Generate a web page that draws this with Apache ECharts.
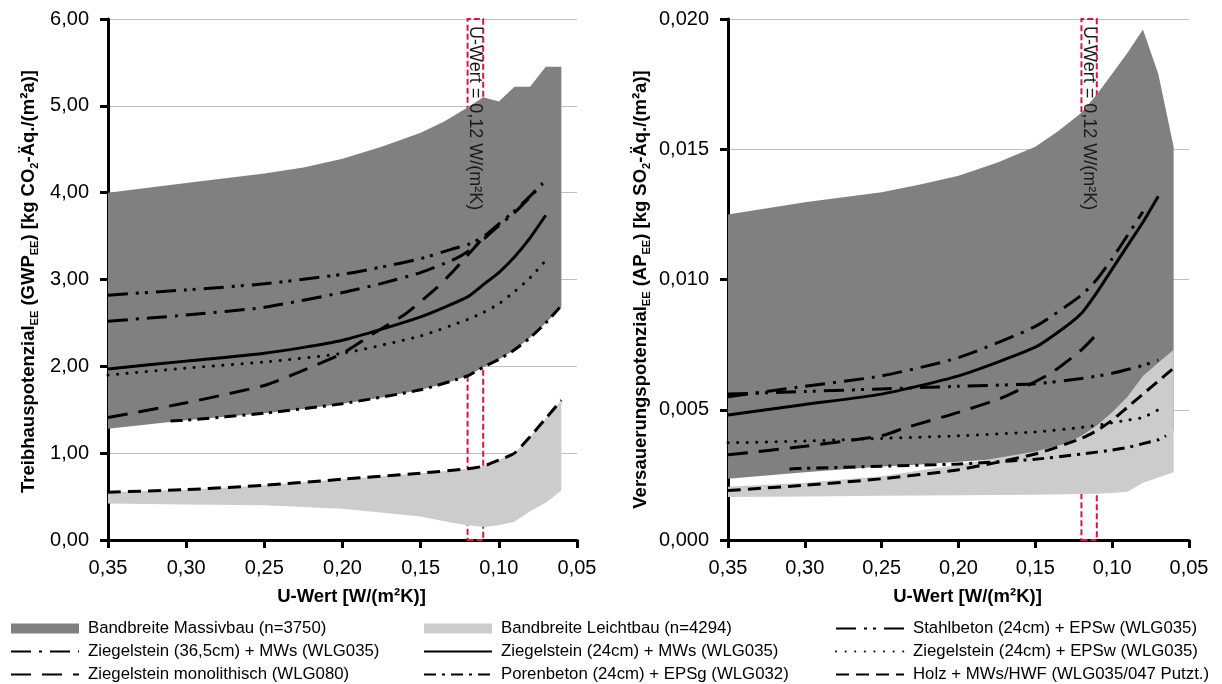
<!DOCTYPE html>
<html><head><meta charset="utf-8">
<script src="https://cdn.jsdelivr.net/npm/echarts@6/dist/echarts.min.js"></script>
<style>html,body{margin:0;padding:0;background:#fff}#c{width:1222px;height:684px}</style>
</head><body><div id="c"></div>
<script>
// ---------- DATA ----------
// axis ticks
const xMin = 0.05, xMax = 0.35, xStep = 0.05;
const gwpMin = 0, gwpMax = 6, gwpStep = 1;
const apMin = 0, apMax = 0.02, apStep = 0.005;
const uMark = [0.12, 0.11];
const uMarkLabel = 'U-Wert = 0,12 W/(m²K)';

// Names
const nMassiv = 'Bandbreite Massivbau (n=3750)';
const nLeicht = 'Bandbreite Leichtbau (n=4294)';
const nStahl = 'Stahlbeton (24cm) + EPSw (WLG035)';
const nZ365 = 'Ziegelstein (36,5cm) + MWs (WLG035)';
const nZ24M = 'Ziegelstein (24cm) + MWs (WLG035)';
const nZ24E = 'Ziegelstein (24cm) + EPSw (WLG035)';
const nMono = 'Ziegelstein monolithisch (WLG080)';
const nPoren = 'Porenbeton (24cm) + EPSg (WLG032)';
const nHolz = 'Holz + MWs/HWF (WLG035/047 Putzt.)';

// ----- GWP (left) -----
const gwpMassivU     = [0.35,0.30,0.25,0.225,0.20,0.175,0.15,0.135,0.12,0.11,0.10,0.09,0.08,0.07,0.06];
const gwpMassivUpper = [4.00,4.11,4.22,4.29,4.39,4.53,4.69,4.82,4.98,5.10,5.05,5.22,5.22,5.45,5.45];
const gwpMassivLower = [1.28,1.38,1.46,1.51,1.57,1.64,1.73,1.80,1.89,1.99,2.08,2.19,2.33,2.50,2.68];
const gwpLeichtU     = [0.35,0.30,0.25,0.20,0.15,0.13,0.12,0.11,0.10,0.09,0.08,0.07,0.06];
const gwpLeichtUpper = [0.55,0.58,0.63,0.70,0.77,0.80,0.82,0.85,0.92,1.00,1.19,1.40,1.61];
const gwpLeichtLower = [0.42,0.41,0.40,0.36,0.27,0.20,0.17,0.15,0.17,0.21,0.33,0.43,0.57];

const gwpStahlU = [0.35,0.30,0.25,0.20,0.176,0.15,0.13,0.12,0.11,0.10,0.09,0.08,0.072];
const gwpStahl  = [2.82,2.88,2.95,3.06,3.14,3.24,3.35,3.40,3.49,3.64,3.79,3.96,4.11];
const gwpZ365U  = [0.35,0.30,0.25,0.20,0.176,0.15,0.13,0.12,0.11,0.10,0.09,0.08,0.072];
const gwpZ365   = [2.52,2.59,2.68,2.85,2.95,3.08,3.22,3.32,3.46,3.62,3.77,3.95,4.10];
const gwpZ24MU  = [0.35,0.30,0.25,0.20,0.15,0.12,0.11,0.10,0.09,0.08,0.07];
const gwpZ24M   = [1.97,2.06,2.15,2.30,2.57,2.80,2.94,3.08,3.26,3.48,3.74];
const gwpZ24EU  = [0.35,0.30,0.25,0.20,0.15,0.12,0.11,0.10,0.09,0.08,0.07];
const gwpZ24E   = [1.90,1.98,2.05,2.15,2.35,2.54,2.62,2.72,2.86,3.02,3.22];
const gwpMonoU  = [0.35,0.30,0.25,0.227,0.20,0.18,0.16,0.14,0.13,0.12,0.11];
const gwpMono   = [1.41,1.58,1.78,1.94,2.15,2.38,2.60,2.90,3.08,3.28,3.48];
const gwpPorenU = [0.31,0.30,0.25,0.20,0.15,0.12,0.11,0.10,0.09,0.08,0.07,0.06];
const gwpPoren  = [1.37,1.38,1.46,1.57,1.73,1.89,1.99,2.08,2.19,2.33,2.50,2.70];
const gwpHolzU  = [0.35,0.30,0.25,0.20,0.15,0.12,0.11,0.10,0.09,0.08,0.07,0.06];
const gwpHolz   = [0.55,0.58,0.63,0.70,0.77,0.82,0.85,0.92,1.00,1.19,1.40,1.61];

// ----- AP (right) -----
const apMassivU     = [0.35,0.30,0.25,0.225,0.20,0.175,0.15,0.135,0.12,0.11,0.10,0.09,0.08,0.07,0.06];
const apMassivUpper = [0.0125,0.01297,0.01335,0.01365,0.01398,0.01448,0.0151,0.0157,0.0164,0.0171,0.0179,0.0187,0.0196,0.0179,0.0151];
const apMassivLower = [0.00235,0.0026,0.00282,0.0029,0.0030,0.0031,0.0032,0.0033,0.0034,0.0035,0.0036,0.0037,0.0038,0.0040,0.0042];
const apLeichtU     = [0.35,0.30,0.25,0.20,0.15,0.13,0.12,0.11,0.10,0.09,0.08,0.07,0.06];
const apLeichtUpper = [0.00204,0.0022,0.00245,0.0029,0.0034,0.0037,0.0040,0.0044,0.0049,0.0055,0.0063,0.0068,0.0073];
const apLeichtLower = [0.00165,0.00167,0.00170,0.00172,0.00174,0.00176,0.00177,0.00178,0.0018,0.00185,0.0022,0.0024,0.0026];

const apStahlU = [0.35,0.30,0.25,0.20,0.15,0.12,0.10,0.08,0.07];
const apStahl  = [0.0056,0.0057,0.0058,0.0059,0.0060,0.0062,0.0064,0.0067,0.0069];
const apZ365U  = [0.35,0.30,0.25,0.20,0.15,0.12,0.11,0.10,0.09,0.08];
const apZ365   = [0.0055,0.0059,0.0063,0.0070,0.0082,0.0094,0.0100,0.0108,0.0117,0.0126];
const apZ24MU  = [0.35,0.30,0.25,0.20,0.15,0.13,0.12,0.11,0.10,0.09,0.08,0.07];
const apZ24M   = [0.0048,0.0052,0.0056,0.0063,0.0074,0.0082,0.0087,0.0095,0.0104,0.0113,0.0122,0.0132];
const apZ24EU  = [0.35,0.30,0.25,0.20,0.15,0.12,0.10,0.09,0.08,0.07];
const apZ24E   = [0.00373,0.0038,0.0039,0.0040,0.00415,0.00432,0.0045,0.0046,0.0047,0.0050];
const apMonoU  = [0.35,0.30,0.25,0.235,0.20,0.17,0.14,0.12,0.11];
const apMono   = [0.00327,0.0036,0.0040,0.0043,0.0049,0.0055,0.0064,0.0073,0.0079];
const apPorenU = [0.31,0.30,0.25,0.20,0.15,0.12,0.10,0.09,0.08,0.07,0.065];
const apPoren  = [0.00273,0.00275,0.00283,0.00292,0.0031,0.0033,0.00345,0.00355,0.0037,0.00385,0.0040];
const apHolzU  = [0.35,0.30,0.25,0.20,0.15,0.12,0.11,0.10,0.09,0.08,0.07,0.06];
const apHolz   = [0.0019,0.0021,0.00235,0.0027,0.0033,0.0039,0.0042,0.0046,0.0051,0.0056,0.0061,0.0066];

// ---------- STYLE ----------
const ff = '"Liberation Sans", Arial, sans-serif';
const cDark = '#808080', cLight = '#cccccc', cRed = '#dc143c';
const dashes = {};
dashes[nStahl] = {type:[20,8,3,6,3,8], cap:'butt'};
dashes[nZ365]  = {type:[20,8,3,8], cap:'butt'};
dashes[nZ24M]  = {type:'solid', cap:'butt'};
dashes[nZ24E]  = {type:[0.1,9.5], cap:'round'};
dashes[nMono]  = {type:[20,11], cap:'butt'};
dashes[nPoren] = {type:[12,6,3,6], cap:'butt'};
dashes[nHolz]  = {type:[13,7], cap:'butt'};

function pairs(U, V){ return U.map((u,i)=>[u, V[i]]); }

function band(name, U, up, lo, color, idx, z){
  return {
    type:'custom', name, xAxisIndex:idx, yAxisIndex:idx, z, silent:true,
    itemStyle:{color},
    data: U.map((u,i)=>[u, up[i], lo[i]]),
    encode:{x:0, y:[1,2]},
    renderItem:(params, api)=>{
      if (params.dataIndex !== 0) return null;
      const pts = [];
      for (let i=0;i<U.length;i++) pts.push(api.coord([U[i], up[i]]));
      for (let i=U.length-1;i>=0;i--) pts.push(api.coord([U[i], lo[i]]));
      return {type:'polygon', shape:{points:pts, smooth:0}, style:{fill:color}};
    }
  };
}

function line(name, U, V, idx, extra){
  const d = dashes[name];
  return Object.assign({
    type:'line', name, xAxisIndex:idx, yAxisIndex:idx, z:3, silent:true,
    data: pairs(U, V), symbol:'none', animation:false, smooth:0.2,
    itemStyle:{color:'#000'},
    lineStyle:{color:'#000', width:3, type:d.type, cap:d.cap}
  }, extra||{});
}

function mark(yTop){
  return {
    markArea:{
      silent:true,
      itemStyle:{color:'rgba(0,0,0,0)', borderColor:cRed, borderWidth:2, borderType:[6,3]},
      label:{show:true, position:'insideTop', distance:9, rotate:-90, align:'left', verticalAlign:'middle',
             formatter:uMarkLabel, color:'#1a1a1a', fontSize:18, fontFamily:ff, offset:[-1,0]},
      data:[[{xAxis:uMark[0], yAxis:0},{xAxis:uMark[1], yAxis:yTop}]]
    }
  };
}

const fmt = d => v => v.toFixed(d).replace('.', ',');

function xAxis(idx){
  return {
    type:'value', gridIndex:idx, min:xMin, max:xMax, interval:xStep, inverse:true,
    name:'U-Wert [W/(m²K)]', nameLocation:'middle', nameGap:47,
    nameTextStyle:{fontFamily:ff, fontWeight:'bold', fontSize:18.5, color:'#000', padding:[0,0,0,18]},
    axisLine:{lineStyle:{color:'#000', width:3}},
    axisTick:{show:true, length:8, lineStyle:{color:'#000', width:3}},
    axisLabel:{formatter:fmt(2), fontFamily:ff, fontSize:20, color:'#000', margin:18},
    splitLine:{show:false}
  };
}
function yAxis(idx, min, max, step, dec, nameRich, gap, shift){
  return {
    type:'value', gridIndex:idx, min, max, interval:step,
    name:nameRich, nameLocation:'middle', nameRotate:90, nameGap:gap,
    nameTextStyle:{padding:[0,shift,0,0], rich:{
      b:{fontFamily:ff, fontWeight:'bold', fontSize:18.5, color:'#000', lineHeight:22},
      s:{fontFamily:ff, fontWeight:'bold', fontSize:11, color:'#000', verticalAlign:'bottom', lineHeight:22}
    }},
    axisLine:{show:true, lineStyle:{color:'#000', width:3}},
    axisTick:{show:true, length:8, lineStyle:{color:'#000', width:3}},
    axisLabel:{formatter:fmt(dec), fontFamily:ff, fontSize:20, color:'#000', margin:19},
    splitLine:{show:true, lineStyle:{color:'#c0c0c0', width:1}}
  };
}

const gwpName = '{b|Treibhauspotenzial}{s|EE}{b| (GWP}{s|EE}{b|) [kg CO}{s|2}{b|-Äq./(m²a)]}';
const apName  = '{b|Versauerungspotenzial}{s|EE}{b| (AP}{s|EE}{b|) [kg SO}{s|2}{b|-Äq./(m²a)]}';

const legendText = {fontFamily:ff, fontSize:16.8, color:'#000', padding:[0,0,0,4], lineHeight:16};
function legend(left, names){
  return {
    orient:'vertical', left, top:620, height:70, padding:0, itemWidth:68, itemHeight:10, itemGap:6,
    selectedMode:false, textStyle:legendText,
    itemStyle:{opacity:0},
    data: names.map(n => n===nMassiv ? {name:n, icon:'rect', itemStyle:{color:cDark, opacity:1}}
                      : n===nLeicht ? {name:n, icon:'rect', itemStyle:{color:cLight, opacity:1}} : {name:n})
  };
}

const series = [
  band(nMassiv, gwpMassivU, gwpMassivUpper, gwpMassivLower, cDark, 0, 1),
  band(nLeicht, gwpLeichtU, gwpLeichtUpper, gwpLeichtLower, cLight, 0, 2),
  line(nStahl, gwpStahlU, gwpStahl, 0),
  line(nZ365, gwpZ365U, gwpZ365, 0),
  line(nZ24M, gwpZ24MU, gwpZ24M, 0),
  line(nZ24E, gwpZ24EU, gwpZ24E, 0),
  line(nMono, gwpMonoU, gwpMono, 0),
  line(nPoren, gwpPorenU, gwpPoren, 0),
  line(nHolz, gwpHolzU, gwpHolz, 0, mark(gwpMax)),

  band(nMassiv, apMassivU, apMassivUpper, apMassivLower, cDark, 1, 1),
  band(nLeicht, apLeichtU, apLeichtUpper, apLeichtLower, cLight, 1, 2),
  line(nStahl, apStahlU, apStahl, 1),
  line(nZ365, apZ365U, apZ365, 1),
  line(nZ24M, apZ24MU, apZ24M, 1),
  line(nZ24E, apZ24EU, apZ24E, 1),
  line(nMono, apMonoU, apMono, 1),
  line(nPoren, apPorenU, apPoren, 1),
  line(nHolz, apHolzU, apHolz, 1, mark(apMax))
];

const chart = echarts.init(document.getElementById('c'), null, {renderer:'canvas'});
chart.setOption({
  animation:false,
  backgroundColor:'#fff',
  grid:[
    {left:108, top:19, width:469, height:521},
    {left:728, top:19, width:461, height:521}
  ],
  xAxis:[xAxis(0), xAxis(1)],
  yAxis:[yAxis(0, gwpMin, gwpMax, gwpStep, 2, gwpName, 68, 4), yAxis(1, apMin, apMax, apStep, 3, apName, 76, 20)],
  legend:[
    legend(10, [nMassiv, nZ365, nMono]),
    legend(423, [nLeicht, nZ24M, nPoren]),
    legend(835, [nStahl, nZ24E, nHolz])
  ],
  series
});
</script></body></html>
